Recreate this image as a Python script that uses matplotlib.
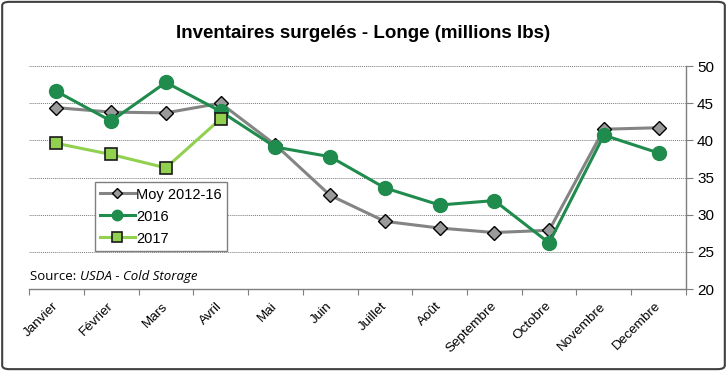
import matplotlib.pyplot as plt
from matplotlib.patches import FancyBboxPatch

# Données (millions lbs)
mois = ['Janvier', 'Février', 'Mars', 'Avril', 'Mai', 'Juin', 'Juillet', 'Août',
        'Septembre', 'Octobre', 'Novembre', 'Decembre']
moy_2012_16 = [44.4, 43.8, 43.7, 45.0, 39.4, 32.6, 29.1, 28.2, 27.6, 27.9, 41.5, 41.7]
serie_2016 = [46.6, 42.6, 47.8, 43.9, 39.1, 37.8, 33.6, 31.3, 31.9, 26.2, 40.7, 38.3]
serie_2017 = [39.6, 38.1, 36.3, 42.9]

plt.rcParams['font.family'] = ['Liberation Sans', 'DejaVu Sans']

fig = plt.figure(figsize=(7.27, 3.71), dpi=100)
ax = fig.add_axes([0.0399, 0.221, 0.9037, 0.601])

x = list(range(len(mois)))
ax.plot(x, moy_2012_16, color='#848484', lw=2.2, marker='D', ms=7,
        mfc='#9a9a9a', mec='black', mew=1, label='Moy 2012-16', zorder=3)
ax.plot(x, serie_2016, color='#1f8b4c', lw=2.2, marker='o', ms=10,
        mfc='#1f8b4c', mec='#1f8b4c', label='2016', zorder=4)
ax.plot(x[:len(serie_2017)], serie_2017, color='#92d050', lw=2.2, marker='s', ms=9,
        mfc='#92d050', mec='#1a1a1a', mew=1.2, label='2017', zorder=5)

ax.set_xlim(-0.5, len(mois) - 0.5)
ax.set_ylim(20, 50)
ax.set_yticks(range(20, 51, 5))
ax.yaxis.tick_right()
ax.set_xticks([i - 0.5 for i in range(len(mois) + 1)], minor=False)
ax.set_xticklabels([])
ax.set_xticks(x, minor=True)
ax.set_xticklabels(mois, minor=True, rotation=45, ha='right', va='center',
                   rotation_mode='anchor', fontsize=9.7)
ax.tick_params(axis='x', which='minor', length=0, pad=11)
ax.tick_params(axis='x', which='major', length=4, color='#7f7f7f', direction='out')
ax.tick_params(axis='y', length=5, color='#7f7f7f', labelsize=11, pad=3)

ax.grid(axis='y', ls=(0, (1, 1)), color='#7a7a7a', lw=0.7)
for s in ['top', 'left']:
    ax.spines[s].set_visible(False)
for s in ['bottom', 'right']:
    ax.spines[s].set_color('#7f7f7f')
    ax.spines[s].set_linewidth(1)

leg = ax.legend(loc='upper left', bbox_to_anchor=(0.1, 0.478), fontsize=10.5,
                fancybox=False, framealpha=1, edgecolor='#7f7f7f',
                handlelength=2.4, handletextpad=0.1, borderpad=0.35,
                labelspacing=0.55, markerscale=0.75, borderaxespad=0)
leg.get_frame().set_linewidth(1)

fig.text(0.5, 0.91, 'Inventaires surgelés - Longe (millions lbs)', ha='center',
         va='center', fontsize=13.5, fontweight='bold')

src = fig.text(0.041, 0.246, 'Source: ', fontsize=9.5, family='Open Sans', va='baseline')
ax.annotate('USDA - Cold Storage', xy=(1, 0), xycoords=src, va='bottom',
            fontsize=9.5, family='Open Sans', style='italic')

fig.patches.append(FancyBboxPatch((0.003, 0.005), 0.994, 0.99,
                                  boxstyle='round,pad=0,rounding_size=0.01',
                                  transform=fig.transFigure, fill=False,
                                  edgecolor='#404040', lw=1.5))

fig.savefig('out.png', dpi=100)
